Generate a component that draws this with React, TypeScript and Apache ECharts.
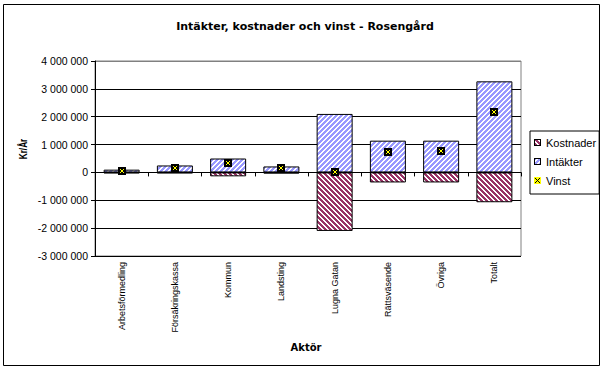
import React, { useEffect, useRef } from "react";
import * as echarts from "echarts";

const categories = [
  "Arbetsförmedling",
  "Försäkringskassa",
  "Kommun",
  "Landsting",
  "Lugna Gatan",
  "Rättsväsende",
  "Övriga",
  "Totalt",
];
const kostnader = [-30000, -30000, -140000, -40000, -2100000, -360000, -360000, -1070000];
const intakter = [100000, 250000, 500000, 215000, 2100000, 1140000, 1140000, 3270000];
const vinst = [60000, 150000, 330000, 150000, 0, 720000, 760000, 2170000];
const yTicks = { min: -3000000, max: 4000000, interval: 1000000 };

const BLUE = "#9999ff";
const MAROON = "#993366";
const FONT = "Arial, 'Liberation Sans', sans-serif";
const WIDE = "'DejaVu Sans', Verdana, sans-serif";

function makePattern(color: string, up: boolean) {
  const n = 20;
  const c = document.createElement("canvas");
  c.width = n;
  c.height = n;
  const ctx = c.getContext("2d")!;
  ctx.fillStyle = "#ffffff";
  ctx.fillRect(0, 0, n, n);
  ctx.fillStyle = color;
  for (let x = 0; x < n; x++) {
    for (let y = 0; y < n; y++) {
      const k = up ? (x + y) % 5 : (x - y + 100) % 5;
      if (k < 3) ctx.fillRect(x, y, 1, 1);
    }
  }
  return c;
}

function makeIcon(kind: "k" | "i" | "v") {
  const c = document.createElement("canvas");
  c.width = 7;
  c.height = 7;
  const ctx = c.getContext("2d")!;
  if (kind === "v") {
    ctx.fillStyle = "#ffff00";
    ctx.fillRect(0, 0, 7, 7);
    ctx.strokeStyle = "#000";
    ctx.lineWidth = 1;
    ctx.beginPath();
    ctx.moveTo(1, 1);
    ctx.lineTo(6, 6);
    ctx.moveTo(6, 1);
    ctx.lineTo(1, 6);
    ctx.stroke();
  } else {
    const pat = ctx.createPattern(makePattern(kind === "k" ? MAROON : BLUE, kind === "i"), "repeat")!;
    ctx.fillStyle = pat;
    ctx.fillRect(0, 0, 7, 7);
    ctx.strokeStyle = "#000";
    ctx.strokeRect(0.5, 0.5, 6, 6);
  }
  return "image://" + c.toDataURL();
}

function fmt(v: number) {
  const s = Math.abs(v).toString().replace(/\B(?=(\d{3})+(?!\d))/g, " ");
  return (v < 0 ? "-" : "") + s;
}

export default function App() {
  const ref = useRef<HTMLDivElement>(null);
  useEffect(() => {
    if (!ref.current) return;
    const chart = echarts.init(ref.current, undefined, { renderer: "svg" });
    const bluePat = makePattern(BLUE, true);
    const maroonPat = makePattern(MAROON, false);
    const splitColors = ["#000", "#000", "#000", "#000", "#000", "#000", "#000", "#808080"];
    chart.setOption({
      animation: false,
      backgroundColor: "#ffffff",
      textStyle: { fontFamily: FONT },
      grid: {
        left: 95,
        top: 61,
        right: 84,
        bottom: 114,
        show: true,
        borderColor: "#808080",
        borderWidth: 1,
        backgroundColor: "#ffffff",
      },
      legend: {
        orient: "vertical",
        left: 530,
        top: 131,
        padding: [5, 3, 7, 4],
        borderColor: "#000",
        borderWidth: 1,
        backgroundColor: "#ffffff",
        itemWidth: 7,
        itemHeight: 7,
        itemGap: 6,
        textStyle: { fontSize: 11, lineHeight: 13, color: "#000", fontFamily: FONT },
        data: [
          { name: "Kostnader", icon: makeIcon("k") },
          { name: "Intäkter", icon: makeIcon("i") },
          { name: "Vinst", icon: makeIcon("v") },
        ],
      },
      xAxis: {
        type: "category",
        data: categories,
        boundaryGap: true,
        axisLine: { show: true, lineStyle: { color: "#000", width: 1 } },
        axisTick: { show: true, length: 4, lineStyle: { color: "#000" } },
        axisLabel: { rotate: 90, fontSize: 9, color: "#000", margin: 6, fontFamily: FONT, interval: 0 },
        splitLine: { show: false },
      },
      yAxis: {
        type: "value",
        min: yTicks.min,
        max: yTicks.max,
        interval: yTicks.interval,
        axisLine: { show: true, lineStyle: { color: "#000", width: 1 } },
        axisTick: { show: true, length: 4, lineStyle: { color: "#000" } },
        axisLabel: { fontSize: 10.5, color: "#000", margin: 7, fontFamily: FONT, formatter: (v: number) => fmt(v) },
        splitLine: { show: true, lineStyle: { color: splitColors, width: 1 } },
      },
      series: [
        {
          name: "Kostnader",
          type: "bar",
          stack: "a",
          barWidth: 36,
          data: kostnader,
          itemStyle: {
            color: { image: maroonPat, repeat: "repeat", imageWidth: 20, imageHeight: 20 },
            borderColor: "#000",
            borderWidth: 1,
          },
        },
        {
          name: "Intäkter",
          type: "bar",
          stack: "a",
          barWidth: 36,
          data: intakter,
          itemStyle: {
            color: { image: bluePat, repeat: "repeat", imageWidth: 20, imageHeight: 20 },
            borderColor: "#000",
            borderWidth: 1,
          },
        },
        {
          name: "Vinst",
          type: "custom",
          z: 5,
          data: vinst.map((v, i) => [i, v]),
          encode: { x: 0, y: 1 },
          renderItem: (params: any, api: any) => {
            const p = api.coord([api.value(0), api.value(1)]);
            const x = Math.round(p[0]);
            const y = Math.round(p[1]);
            return {
              type: "group",
              children: [
                { type: "rect", shape: { x: x - 4, y: y - 4, width: 8, height: 8 }, style: { fill: "#000" } },
                { type: "line", shape: { x1: x - 2, y1: y - 2, x2: x + 2, y2: y + 2 }, style: { stroke: "#ffff00", lineWidth: 1 } },
                { type: "line", shape: { x1: x - 2, y1: y + 2, x2: x + 2, y2: y - 2 }, style: { stroke: "#ffff00", lineWidth: 1 } },
              ],
            };
          },
        },
      ],
      graphic: [
        {
          type: "rect",
          silent: true,
          shape: { x: 3.5, y: 4.5, width: 596, height: 361 },
          style: { fill: "none", stroke: "#000", lineWidth: 1 },
          z: 100,
        },
        {
          type: "text",
          x: 305,
          y: 26,
          style: {
            text: "Intäkter, kostnader och vinst - Rosengård",
            font: "bold 11px " + WIDE,
            fill: "#000",
            textAlign: "center",
            textVerticalAlign: "middle",
          },
        },
        {
          type: "text",
          x: 23,
          y: 149,
          rotation: Math.PI / 2,
          scaleX: 0.75,
          style: {
            text: "Kr/År",
            font: "bold 11px " + FONT,
            fill: "#000",
            textAlign: "center",
            textVerticalAlign: "middle",
          },
        },
        {
          type: "text",
          x: 306,
          y: 347,
          style: {
            text: "Aktör",
            font: "bold 10px " + WIDE,
            fill: "#000",
            textAlign: "center",
            textVerticalAlign: "middle",
          },
        },
      ],
    });
    return () => chart.dispose();
  }, []);
  return (
    <>
      <style>{"svg image { image-rendering: pixelated; }"}</style>
      <div
        ref={ref}
        style={{ position: "absolute", left: 0, top: 0, width: 605, height: 370 }}
      />
    </>
  );
}
